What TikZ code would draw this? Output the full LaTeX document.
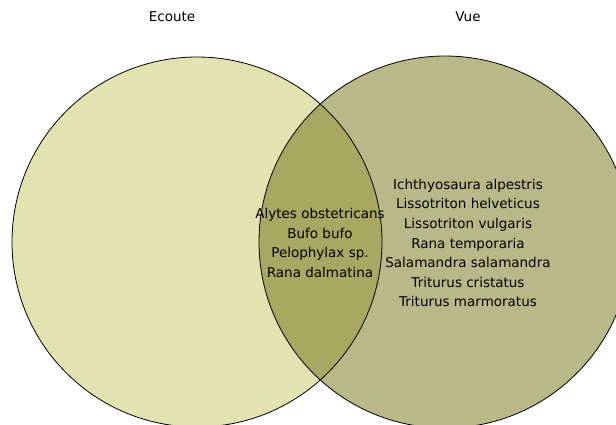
\documentclass[tikz,border=0pt]{standalone}
\usepackage{fontspec}
\setmainfont{DejaVu Sans}
\definecolor{ecoutefill}{RGB}{227,227,177}
\definecolor{vuefill}{RGB}{184,184,136}
\definecolor{bothfill}{RGB}{168,168,98}
\tikzset{
  setline/.style={draw=black, line width=0.8pt},
  listtext/.style={align=center, font=\fontsize{13.5}{19.6}\selectfont},
  settitle/.style={font=\fontsize{13.5}{16}\selectfont}
}

\begin{document}
\begin{tikzpicture}[x=1pt, y=-1pt]
    \useasboundingbox (0,0) rectangle (616,425);
    \clip (0,0) rectangle (616,425);

    % Sets
    \fill[ecoutefill] (197,242) circle (185pt);
    \fill[vuefill] (445,242) circle (186pt);
    \begin{scope}
        \clip (197,242) circle (185pt);
        \fill[bothfill] (445,242) circle (186pt);
    \end{scope}
    \draw[setline] (197,242) circle (185pt);
    \draw[setline] (445,242) circle (186pt);

    % Titles
    \node[settitle] (ecoute) at (172,17) {Ecoute};
    \node[settitle] (vue) at (468,17) {Vue};

    % Species
    \node[listtext] (both) at (320,243) {Alytes obstetricans\\Bufo bufo\\Pelophylax sp.\\Rana dalmatina};
    \node[listtext] (vueonly) at (468,243) {Ichthyosaura alpestris\\Lissotriton helveticus\\Lissotriton vulgaris\\Rana temporaria\\Salamandra salamandra\\Triturus cristatus\\Triturus marmoratus};
\end{tikzpicture}
\end{document}
